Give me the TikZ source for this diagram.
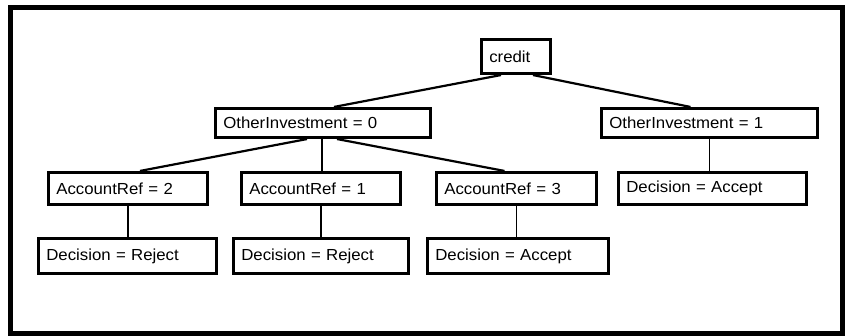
\documentclass[tikz,border=0pt]{standalone}
\usepackage{fontspec}
\setmainfont[FakeStretch=1.05]{Liberation Sans}
\usetikzlibrary{calc}

\tikzset{
  tbox/.style={draw=black, line width=2.7pt, fill=white, rectangle,
    inner xsep=8pt, inner ysep=0pt, align=left,
    font=\fontsize{16}{19}\selectfont},
  rowa/.style={tbox, minimum height=34.4pt},
  rowb/.style={tbox, minimum height=29.4pt},
  rowc/.style={tbox, minimum height=32.4pt},
  rowd/.style={tbox, minimum height=35.4pt},
  slant/.style={line width=2.2pt},
  drop/.style={line width=1.5pt}
}

\begin{document}
\begin{tikzpicture}[x=1pt,y=-1pt]
  \useasboundingbox (0,0) rectangle (845,336);
  % outer frame
  \draw[line width=5pt] (10,7.8) rectangle (842,333);

  % root
  \node[rowa, text width=53.4pt] (credit) at (516,56.5) {credit};

  % first split
  \node[rowb, text width=199.4pt] (oi0) at (323,123) {OtherInvestment = 0};
  \node[rowb, text width=200.4pt] (oi1) at (709.5,123) {OtherInvestment = 1};

  % second level
  \node[rowc, text width=143.4pt] (ar2) at (128,188.5) {AccountRef = 2};
  \node[rowc, text width=143.4pt] (ar1) at (321,188.5) {AccountRef = 1};
  \node[rowc, text width=144.4pt] (ar3) at (516.5,188.5) {AccountRef = 3};
  \node[rowc, text width=172.4pt] (da1) at (712.5,188.5) {Decision = Accept};

  % leaves
  \node[rowd, text width=162.4pt] (dr2) at (127.5,256) {Decision = Reject};
  \node[rowd, text width=159.4pt] (dr1) at (321,256) {Decision = Reject};
  \node[rowd, text width=165.4pt] (da3) at (518,256) {Decision = Accept};

  % connectors
  \draw[slant] ($(credit.south)+(-15,0)$) -- ($(oi0.north)+(11,0)$);
  \draw[slant] ($(credit.south)+(17,0)$) -- ($(oi1.north)+(-19,0)$);
  \draw[slant] ($(oi0.south)+(-16,0)$) -- ($(ar2.north)+(12,0)$);
  \draw[drop] ($(oi0.south)+(-1,0)$) -- ($(ar1.north)+(1,0)$);
  \draw[slant] ($(oi0.south)+(14,0)$) -- ($(ar3.north)+(-12,0)$);
  \draw[drop] (oi1.south) -- (oi1.south |- da1.north);
  \draw[drop] (ar2.south) -- (ar2.south |- dr2.north);
  \draw[drop] (ar1.south) -- (ar1.south |- dr1.north);
  \draw[drop] (ar3.south) -- (ar3.south |- da3.north);
\end{tikzpicture}
\end{document}
